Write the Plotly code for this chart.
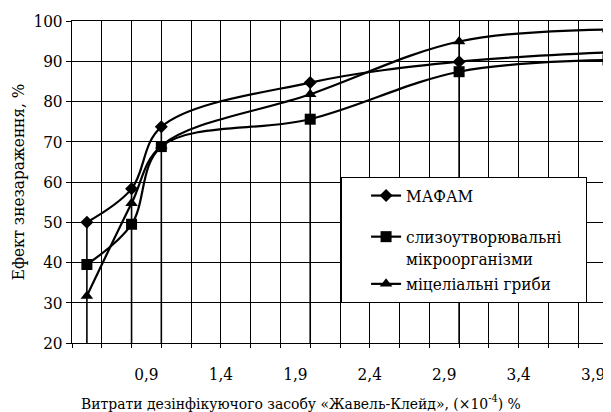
import plotly.graph_objects as go

# ---- data ----
x_vals = [0.5, 0.8, 1.0, 2.0, 3.0, 4.0]
mafam = [50.0, 58.3, 73.7, 84.7, 89.9, 92.2]
slime = [39.5, 49.5, 68.8, 75.6, 87.4, 90.3]
fungi = [31.7, 54.7, 69.0, 81.8, 94.9, 97.9]
series_names = ["МАФАМ", "слизоутворювальні\u00a0\u00a0\u00a0\u00a0<br>мікроорганізми", "міцеліальні гриби"]
x_tick_vals = [0.9, 1.4, 1.9, 2.4, 2.9, 3.4, 3.9]
x_tick_text = ["0,9", "1,4", "1,9", "2,4", "2,9", "3,4", "3,9"]
y_tick_vals = [20, 30, 40, 50, 60, 70, 80, 90, 100]
x_title = "Витрати дезінфікуючого засобу «Жавель-Клейд», (×10<sup>-4</sup>) %"
y_title = "Ефект знезараження, %"

FONT = "DejaVu Serif Condensed"

fig = go.Figure()

# drop lines from the highest point at each x to the axis
drop_x, drop_y = [], []
for i, xv in enumerate(x_vals):
    top = max(mafam[i], slime[i], fungi[i])
    drop_x += [xv, xv, None]
    drop_y += [20, top, None]
fig.add_trace(go.Scatter(x=drop_x, y=drop_y, mode="lines",
                         line=dict(color="black", width=1.6),
                         showlegend=False, hoverinfo="skip"))

styles = [
    (mafam, "diamond", 10, "g1"),
    (slime, "square", 11, "g2"),
    (fungi, "triangle-up", 11, "g2"),
]
for (vals, sym, size, grp), name in zip(styles, series_names):
    fig.add_trace(go.Scatter(
        x=x_vals, y=vals, name=name, mode="lines+markers",
        line=dict(color="black", width=2.2, shape="spline", smoothing=1.0),
        marker=dict(symbol=sym, size=size, color="black"),
        legendgroup=grp,
    ))

fig.add_annotation(
    text=x_title, xref="paper", yref="paper",
    x=(301 - 72) / 536, y=-(402 - 343) / 322,
    xanchor="center", yanchor="middle", showarrow=False,
    font=dict(family=FONT, size=15.5, color="black"),
)

fig.update_layout(
    width=603, height=404,
    margin=dict(l=64, r=3, t=13, b=69),
    paper_bgcolor="white", plot_bgcolor="white",
    font=dict(family=FONT, color="black", size=17),
    showlegend=True,
    legend=dict(
        x=0.502, y=0.5155, xanchor="left", yanchor="top",
        bgcolor="white", bordercolor="black", borderwidth=1,
        font=dict(family=FONT, size=17, color="black"),
        valign="top", tracegroupgap=16, itemwidth=30, indentation=24,
    ),
    xaxis=dict(
        range=[0.4, 4.0], tickmode="array",
        tickvals=x_tick_vals, ticktext=x_tick_text,
        ticks="", showgrid=False, zeroline=False,
        showline=True, linecolor="black", linewidth=1, mirror=True,
        minor=dict(tick0=0.4, dtick=0.2, ticks="outside", ticklen=4,
                   tickcolor="black", showgrid=True, gridcolor="black", gridwidth=1),
        tickfont=dict(family=FONT, size=17),
        ticklabelstandoff=16,
        automargin=False,
    ),
    yaxis=dict(
        range=[20, 100], tickmode="array", tickvals=y_tick_vals,
        ticks="outside", ticklen=5, tickcolor="black",
        showgrid=True, gridcolor="black", gridwidth=1, zeroline=False,
        showline=True, linecolor="black", linewidth=1, mirror=True,
        tickfont=dict(family=FONT, size=17),
        title=dict(text=y_title, font=dict(family=FONT, size=17), standoff=5),
        automargin=False,
    ),
)

fig.write_html("out.html")
